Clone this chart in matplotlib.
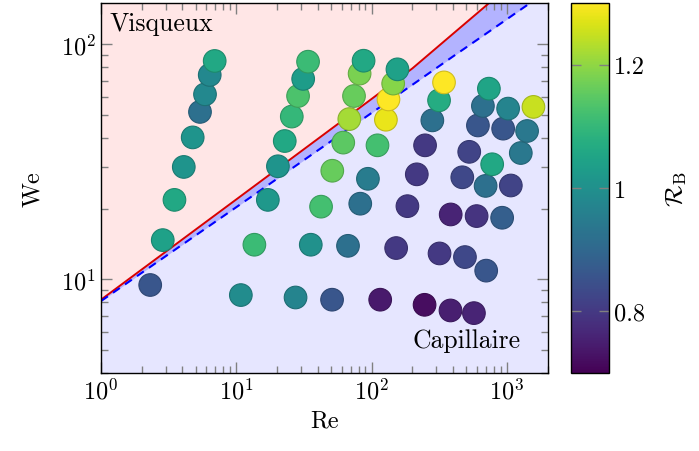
import numpy as np
import matplotlib.pyplot as plt
from matplotlib.colors import Normalize

plt.rcParams['font.family'] = 'serif'
plt.rcParams['font.serif'] = ['cmr10']
plt.rcParams['mathtext.fontset'] = 'cm'
plt.rcParams['axes.formatter.use_mathtext'] = True
plt.rcParams['axes.unicode_minus'] = False

# measured points, one group per run series (Re, We, R_B)
re = [2.31, 2.86, 3.49, 4.09, 4.76, 5.39, 5.87, 6.36, 6.92,
      10.8, 13.6, 17.1, 20.3, 22.8, 25.7, 28.6, 31.2, 33.9,
      27.4, 35.5, 42.3, 51.2, 61.7, 68.4, 74.1, 81.5, 87.2,
      51.0, 66.9, 82.4, 93.9, 110.5, 127.5, 133.2, 144.3, 155.2,
      115.7, 151.8, 183.9, 215.7, 248.3, 281.0, 315.0, 342.8,
      246.2, 317.6, 384.0, 467.7, 526.4, 610.4, 664.4, 735.6,
      382.7, 489.5, 597.0, 695.6, 778.0, 937.6, 1020.5,
      570.3, 702.6, 921.7, 1068.3, 1266.0, 1409.0, 1570.0]
we = [9.47, 14.7, 21.8, 30.1, 40.2, 51.6, 61.3, 74.1, 85.0,
      8.58, 14.05, 21.8, 30.3, 38.8, 49.3, 60.3, 71.3, 84.4,
      8.38, 14.05, 20.4, 29.0, 38.2, 48.1, 60.3, 75.1, 85.2,
      8.20, 13.9, 21.0, 26.8, 37.2, 47.8, 58.3, 68.1, 78.3,
      8.20, 13.6, 20.5, 28.0, 37.2, 47.5, 57.8, 68.9,
      7.80, 12.9, 18.9, 27.2, 34.9, 45.2, 54.7, 64.8,
      7.38, 12.45, 18.6, 25.0, 30.9, 43.8, 53.3,
      7.19, 10.9, 18.3, 25.1, 34.5, 42.8, 54.2]
rb = [0.86, 1.04, 1.06, 1.01, 1.01, 0.92, 0.98, 0.98, 1.06,
      0.99, 1.11, 1.02, 1.01, 1.06, 1.10, 1.13, 1.03, 1.11,
      0.97, 1.00, 1.12, 1.16, 1.15, 1.22, 1.16, 1.18, 1.06,
      0.86, 0.92, 0.92, 0.95, 1.12, 1.28, 1.30, 1.19, 1.04,
      0.74, 0.80, 0.80, 0.80, 0.80, 0.92, 1.07, 1.30,
      0.72, 0.80, 0.76, 0.83, 0.82, 0.86, 0.92, 1.05,
      0.75, 0.83, 0.79, 0.92, 1.06, 0.86, 0.97,
      0.76, 0.86, 0.88, 0.82, 0.94, 0.94, 1.25]

# regime boundaries
line_re = [1, 10, 100, 200, 400, 700, 1000, 2000]
visc_we = [8.2, 21.9, 58.6, 79, 111, 146, 175, 248]
cap_we = [8.09, 20.3, 51.1, 67.3, 88.9, 111, 128, 169]

fig = plt.figure(figsize=(6.99, 4.52), dpi=100)
ax = fig.add_axes([0.1445, 0.1726, 0.639, 0.8186])
cax = fig.add_axes([0.8169, 0.1726, 0.0544, 0.8186])

ax.fill_between(line_re, visc_we, 1e4, color='#ffe6e6', lw=0, zorder=0)
ax.fill_between(line_re, 1e-2, visc_we, color='#e6e6ff', lw=0, zorder=0)
ax.fill_between(line_re, cap_we, visc_we, color='#b3b3ff', lw=0, zorder=1)
ax.plot(line_re, visc_we, color='#d80000', lw=1.4, zorder=2)
ax.plot(line_re, cap_we, color='#0000ff', lw=1.5, ls=(0, (4, 3)), zorder=2)

cmap = plt.get_cmap('viridis')
norm = Normalize(vmin=0.7, vmax=1.3)
edge = [tuple(np.array(cmap(norm(v))[:3]) * 0.82) for v in rb]
sc = ax.scatter(re, we, c=rb, cmap=cmap, norm=norm, s=265,
                edgecolors=edge, linewidths=0.8, zorder=3)

ax.set_xscale('log')
ax.set_yscale('log')
ax.set_xlim(1, 2000)
ax.set_ylim(4, 150)
ax.set_xlabel('Re', fontsize=17.5)
ax.set_ylabel('We', fontsize=17.5, labelpad=12)
ax.tick_params(which='both', direction='in', top=True, right=True,
               color='#808080', labelsize=17.5)
ax.tick_params(which='major', length=7.7, width=1)
ax.tick_params(which='minor', length=4.8, width=1)
for s in ax.spines.values():
    s.set_linewidth(1.0)

ax.text(0.02, 0.928, 'Visqueux', transform=ax.transAxes, fontsize=18.5,
        ha='left', va='baseline', zorder=4)
ax.text(0.94, 0.071, 'Capillaire', transform=ax.transAxes, fontsize=18.5,
        ha='right', va='baseline', zorder=4)

cbar = fig.colorbar(sc, cax=cax, ticks=[0.8, 1, 1.2])
cbar.ax.set_yticklabels(['0.8', '1', '1.2'])
cbar.ax.minorticks_off()
cbar.ax.tick_params(direction='in', length=7, width=1, color='#808080',
                    left=True, right=True, labelsize=17.5)
cbar.outline.set_linewidth(1.0)
cbar.set_label(r'$\mathcal{R}_\mathrm{B}$', fontsize=18, labelpad=14)

fig.savefig('out.png', dpi=100)
